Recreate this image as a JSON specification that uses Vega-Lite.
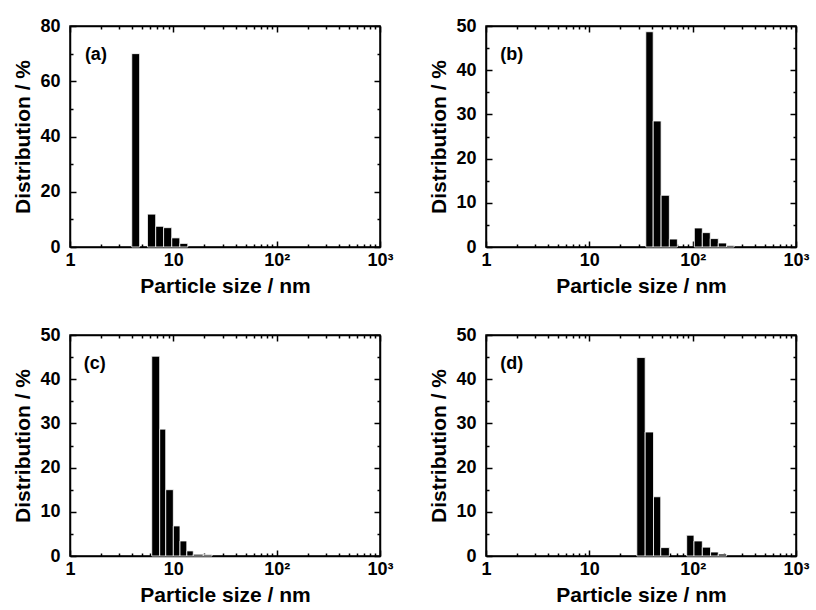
{
  "$schema": "https://vega.github.io/schema/vega-lite/v6.json",
  "background": "white",
  "padding": {"left": 12, "top": 16, "right": 5, "bottom": 5},
  "columns": 2,
  "bounds": "flush",
  "spacing": {"row": 88, "column": 106},
  "datasets": {
    "a": [
      {"start": 3.96, "end": 4.72, "pct": 70.0},
      {"start": 5.62, "end": 6.75, "pct": 11.9},
      {"start": 6.75, "end": 8.05, "pct": 7.5},
      {"start": 8.05, "end": 9.65, "pct": 7.0},
      {"start": 9.65, "end": 11.55, "pct": 3.3},
      {"start": 11.55, "end": 13.8, "pct": 1.3}
    ],
    "b": [
      {"start": 35.2, "end": 41.5, "pct": 48.7},
      {"start": 41.5, "end": 49.5, "pct": 28.5},
      {"start": 49.5, "end": 59.5, "pct": 11.7},
      {"start": 59.5, "end": 71.1, "pct": 1.8},
      {"start": 103.8, "end": 124, "pct": 4.3},
      {"start": 124, "end": 148, "pct": 3.25},
      {"start": 148, "end": 177, "pct": 1.9},
      {"start": 177, "end": 213, "pct": 0.9},
      {"start": 213, "end": 252, "pct": 0.35}
    ],
    "c": [
      {"start": 6.18, "end": 7.38, "pct": 45.2},
      {"start": 7.38, "end": 8.44, "pct": 28.7},
      {"start": 8.44, "end": 10.0, "pct": 15.0},
      {"start": 10.0, "end": 11.6, "pct": 6.8},
      {"start": 11.6, "end": 13.5, "pct": 3.4},
      {"start": 13.5, "end": 15.6, "pct": 1.15},
      {"start": 15.6, "end": 19.5, "pct": 0.4},
      {"start": 19.5, "end": 23.7, "pct": 0.3}
    ],
    "d": [
      {"start": 28.8, "end": 34.7, "pct": 44.9},
      {"start": 34.7, "end": 41.8, "pct": 28.05},
      {"start": 41.8, "end": 49.1, "pct": 13.4},
      {"start": 49.1, "end": 59.5, "pct": 1.9},
      {"start": 87.5, "end": 103, "pct": 4.7},
      {"start": 103, "end": 124, "pct": 3.4},
      {"start": 124, "end": 149, "pct": 2.0},
      {"start": 149, "end": 177, "pct": 0.9},
      {"start": 177, "end": 213, "pct": 0.45}
    ],
    "labels": [
      {"panel": "a", "lab": "(a)", "lx": 1.78, "ly": 69.5},
      {"panel": "b", "lab": "(b)", "lx": 1.77, "ly": 43.4},
      {"panel": "c", "lab": "(c)", "lx": 1.74, "ly": 43.4},
      {"panel": "d", "lab": "(d)", "lx": 1.77, "ly": 43.4}
    ]
  },
  "concat": [
    {
      "width": 310, "height": 221,
      "data": {"name": "a"},
      "layer": [
        {"mark": {"type": "bar", "color": "black", "stroke": "white", "strokeWidth": 0.8},
         "encoding": {
           "x": {"field": "start", "type": "quantitative", "scale": {"type": "log", "domain": [1, 1000]},
                 "axis": {"orient": "bottom", "values": [1, 10, 100, 1000], "tickSize": -6, "labelPadding": 10, "labelExpr": "datum.value == 1 ? '1' : datum.value == 10 ? '10' : datum.value == 100 ? '10²' : '10³'", "title": "Particle size / nm", "titlePadding": 6}},
           "x2": {"field": "end"},
           "y": {"field": "pct", "type": "quantitative", "scale": {"domain": [0, 80]},
                 "axis": {"orient": "left", "values": [0, 20, 40, 60, 80], "tickSize": -6, "labelPadding": 16, "title": "Distribution / %", "titlePadding": 6}},
           "y2": {"datum": 0}
         }},
        {"mark": {"type": "bar", "opacity": 0},
         "encoding": {
           "x": {"field": "start", "type": "quantitative", "axis": {"orient": "bottom", "values": [2,3,4,5,6,7,8,9,20,30,40,50,60,70,80,90,200,300,400,500,600,700,800,900], "tickSize": -3, "labels": false, "domain": false, "title": null}},
           "x2": {"field": "end"},
           "y": {"field": "pct", "type": "quantitative", "axis": {"orient": "left", "values": [10, 30, 50, 70], "tickSize": -3, "labels": false, "domain": false, "title": null}},
           "y2": {"datum": 0}
         }},
        {"mark": {"type": "bar", "opacity": 0},
         "encoding": {
           "x": {"field": "start", "type": "quantitative", "axis": {"orient": "top", "values": [1, 10, 100, 1000], "tickSize": -6, "labels": false, "title": null}},
           "x2": {"field": "end"},
           "y": {"field": "pct", "type": "quantitative", "axis": {"orient": "right", "values": [0, 20, 40, 60, 80], "tickSize": -6, "labels": false, "title": null}},
           "y2": {"datum": 0}
         }},
        {"mark": {"type": "bar", "opacity": 0},
         "encoding": {
           "x": {"field": "start", "type": "quantitative", "axis": {"orient": "top", "values": [2,3,4,5,6,7,8,9,20,30,40,50,60,70,80,90,200,300,400,500,600,700,800,900], "tickSize": -3, "labels": false, "domain": false, "title": null}},
           "x2": {"field": "end"},
           "y": {"field": "pct", "type": "quantitative", "axis": {"orient": "right", "values": [10, 30, 50, 70], "tickSize": -3, "labels": false, "domain": false, "title": null}},
           "y2": {"datum": 0}
         }},
        {"data": {"name": "labels"},
         "transform": [{"filter": "datum.panel == 'a'"}],
         "mark": {"type": "text", "font": "Liberation Sans", "fontSize": 18, "fontWeight": "bold", "color": "black", "align": "center", "baseline": "middle"},
         "encoding": {
           "x": {"field": "lx", "type": "quantitative", "axis": null},
           "y": {"field": "ly", "type": "quantitative", "axis": null},
           "text": {"field": "lab"}
         }}
      ],
      "resolve": {"axis": {"x": "independent", "y": "independent"}}
    },
    {
      "width": 310, "height": 221,
      "data": {"name": "b"},
      "layer": [
        {"mark": {"type": "bar", "color": "black", "stroke": "white", "strokeWidth": 0.8},
         "encoding": {
           "x": {"field": "start", "type": "quantitative", "scale": {"type": "log", "domain": [1, 1000]},
                 "axis": {"orient": "bottom", "values": [1, 10, 100, 1000], "tickSize": -6, "labelPadding": 10, "labelExpr": "datum.value == 1 ? '1' : datum.value == 10 ? '10' : datum.value == 100 ? '10²' : '10³'", "title": "Particle size / nm", "titlePadding": 6}},
           "x2": {"field": "end"},
           "y": {"field": "pct", "type": "quantitative", "scale": {"domain": [0, 50]},
                 "axis": {"orient": "left", "values": [0, 10, 20, 30, 40, 50], "tickSize": -6, "labelPadding": 16, "title": "Distribution / %", "titlePadding": 6}},
           "y2": {"datum": 0}
         }},
        {"mark": {"type": "bar", "opacity": 0},
         "encoding": {
           "x": {"field": "start", "type": "quantitative", "axis": {"orient": "bottom", "values": [2,3,4,5,6,7,8,9,20,30,40,50,60,70,80,90,200,300,400,500,600,700,800,900], "tickSize": -3, "labels": false, "domain": false, "title": null}},
           "x2": {"field": "end"},
           "y": {"field": "pct", "type": "quantitative", "axis": {"orient": "left", "values": [5, 15, 25, 35, 45], "tickSize": -3, "labels": false, "domain": false, "title": null}},
           "y2": {"datum": 0}
         }},
        {"mark": {"type": "bar", "opacity": 0},
         "encoding": {
           "x": {"field": "start", "type": "quantitative", "axis": {"orient": "top", "values": [1, 10, 100, 1000], "tickSize": -6, "labels": false, "title": null}},
           "x2": {"field": "end"},
           "y": {"field": "pct", "type": "quantitative", "axis": {"orient": "right", "values": [0, 10, 20, 30, 40, 50], "tickSize": -6, "labels": false, "title": null}},
           "y2": {"datum": 0}
         }},
        {"mark": {"type": "bar", "opacity": 0},
         "encoding": {
           "x": {"field": "start", "type": "quantitative", "axis": {"orient": "top", "values": [2,3,4,5,6,7,8,9,20,30,40,50,60,70,80,90,200,300,400,500,600,700,800,900], "tickSize": -3, "labels": false, "domain": false, "title": null}},
           "x2": {"field": "end"},
           "y": {"field": "pct", "type": "quantitative", "axis": {"orient": "right", "values": [5, 15, 25, 35, 45], "tickSize": -3, "labels": false, "domain": false, "title": null}},
           "y2": {"datum": 0}
         }},
        {"data": {"name": "labels"},
         "transform": [{"filter": "datum.panel == 'b'"}],
         "mark": {"type": "text", "font": "Liberation Sans", "fontSize": 18, "fontWeight": "bold", "color": "black", "align": "center", "baseline": "middle"},
         "encoding": {
           "x": {"field": "lx", "type": "quantitative", "axis": null},
           "y": {"field": "ly", "type": "quantitative", "axis": null},
           "text": {"field": "lab"}
         }}
      ],
      "resolve": {"axis": {"x": "independent", "y": "independent"}}
    },
    {
      "width": 310, "height": 221,
      "data": {"name": "c"},
      "layer": [
        {"mark": {"type": "bar", "color": "black", "stroke": "white", "strokeWidth": 0.8},
         "encoding": {
           "x": {"field": "start", "type": "quantitative", "scale": {"type": "log", "domain": [1, 1000]},
                 "axis": {"orient": "bottom", "values": [1, 10, 100, 1000], "tickSize": -6, "labelPadding": 10, "labelExpr": "datum.value == 1 ? '1' : datum.value == 10 ? '10' : datum.value == 100 ? '10²' : '10³'", "title": "Particle size / nm", "titlePadding": 6}},
           "x2": {"field": "end"},
           "y": {"field": "pct", "type": "quantitative", "scale": {"domain": [0, 50]},
                 "axis": {"orient": "left", "values": [0, 10, 20, 30, 40, 50], "tickSize": -6, "labelPadding": 16, "title": "Distribution / %", "titlePadding": 6}},
           "y2": {"datum": 0}
         }},
        {"mark": {"type": "bar", "opacity": 0},
         "encoding": {
           "x": {"field": "start", "type": "quantitative", "axis": {"orient": "bottom", "values": [2,3,4,5,6,7,8,9,20,30,40,50,60,70,80,90,200,300,400,500,600,700,800,900], "tickSize": -3, "labels": false, "domain": false, "title": null}},
           "x2": {"field": "end"},
           "y": {"field": "pct", "type": "quantitative", "axis": {"orient": "left", "values": [5, 15, 25, 35, 45], "tickSize": -3, "labels": false, "domain": false, "title": null}},
           "y2": {"datum": 0}
         }},
        {"mark": {"type": "bar", "opacity": 0},
         "encoding": {
           "x": {"field": "start", "type": "quantitative", "axis": {"orient": "top", "values": [1, 10, 100, 1000], "tickSize": -6, "labels": false, "title": null}},
           "x2": {"field": "end"},
           "y": {"field": "pct", "type": "quantitative", "axis": {"orient": "right", "values": [0, 10, 20, 30, 40, 50], "tickSize": -6, "labels": false, "title": null}},
           "y2": {"datum": 0}
         }},
        {"mark": {"type": "bar", "opacity": 0},
         "encoding": {
           "x": {"field": "start", "type": "quantitative", "axis": {"orient": "top", "values": [2,3,4,5,6,7,8,9,20,30,40,50,60,70,80,90,200,300,400,500,600,700,800,900], "tickSize": -3, "labels": false, "domain": false, "title": null}},
           "x2": {"field": "end"},
           "y": {"field": "pct", "type": "quantitative", "axis": {"orient": "right", "values": [5, 15, 25, 35, 45], "tickSize": -3, "labels": false, "domain": false, "title": null}},
           "y2": {"datum": 0}
         }},
        {"data": {"name": "labels"},
         "transform": [{"filter": "datum.panel == 'c'"}],
         "mark": {"type": "text", "font": "Liberation Sans", "fontSize": 18, "fontWeight": "bold", "color": "black", "align": "center", "baseline": "middle"},
         "encoding": {
           "x": {"field": "lx", "type": "quantitative", "axis": null},
           "y": {"field": "ly", "type": "quantitative", "axis": null},
           "text": {"field": "lab"}
         }}
      ],
      "resolve": {"axis": {"x": "independent", "y": "independent"}}
    },
    {
      "width": 310, "height": 221,
      "data": {"name": "d"},
      "layer": [
        {"mark": {"type": "bar", "color": "black", "stroke": "white", "strokeWidth": 0.8},
         "encoding": {
           "x": {"field": "start", "type": "quantitative", "scale": {"type": "log", "domain": [1, 1000]},
                 "axis": {"orient": "bottom", "values": [1, 10, 100, 1000], "tickSize": -6, "labelPadding": 10, "labelExpr": "datum.value == 1 ? '1' : datum.value == 10 ? '10' : datum.value == 100 ? '10²' : '10³'", "title": "Particle size / nm", "titlePadding": 6}},
           "x2": {"field": "end"},
           "y": {"field": "pct", "type": "quantitative", "scale": {"domain": [0, 50]},
                 "axis": {"orient": "left", "values": [0, 10, 20, 30, 40, 50], "tickSize": -6, "labelPadding": 16, "title": "Distribution / %", "titlePadding": 6}},
           "y2": {"datum": 0}
         }},
        {"mark": {"type": "bar", "opacity": 0},
         "encoding": {
           "x": {"field": "start", "type": "quantitative", "axis": {"orient": "bottom", "values": [2,3,4,5,6,7,8,9,20,30,40,50,60,70,80,90,200,300,400,500,600,700,800,900], "tickSize": -3, "labels": false, "domain": false, "title": null}},
           "x2": {"field": "end"},
           "y": {"field": "pct", "type": "quantitative", "axis": {"orient": "left", "values": [5, 15, 25, 35, 45], "tickSize": -3, "labels": false, "domain": false, "title": null}},
           "y2": {"datum": 0}
         }},
        {"mark": {"type": "bar", "opacity": 0},
         "encoding": {
           "x": {"field": "start", "type": "quantitative", "axis": {"orient": "top", "values": [1, 10, 100, 1000], "tickSize": -6, "labels": false, "title": null}},
           "x2": {"field": "end"},
           "y": {"field": "pct", "type": "quantitative", "axis": {"orient": "right", "values": [0, 10, 20, 30, 40, 50], "tickSize": -6, "labels": false, "title": null}},
           "y2": {"datum": 0}
         }},
        {"mark": {"type": "bar", "opacity": 0},
         "encoding": {
           "x": {"field": "start", "type": "quantitative", "axis": {"orient": "top", "values": [2,3,4,5,6,7,8,9,20,30,40,50,60,70,80,90,200,300,400,500,600,700,800,900], "tickSize": -3, "labels": false, "domain": false, "title": null}},
           "x2": {"field": "end"},
           "y": {"field": "pct", "type": "quantitative", "axis": {"orient": "right", "values": [5, 15, 25, 35, 45], "tickSize": -3, "labels": false, "domain": false, "title": null}},
           "y2": {"datum": 0}
         }},
        {"data": {"name": "labels"},
         "transform": [{"filter": "datum.panel == 'd'"}],
         "mark": {"type": "text", "font": "Liberation Sans", "fontSize": 18, "fontWeight": "bold", "color": "black", "align": "center", "baseline": "middle"},
         "encoding": {
           "x": {"field": "lx", "type": "quantitative", "axis": null},
           "y": {"field": "ly", "type": "quantitative", "axis": null},
           "text": {"field": "lab"}
         }}
      ],
      "resolve": {"axis": {"x": "independent", "y": "independent"}}
    }
  ],
  "config": {
    "font": "Liberation Sans",
    "view": {"stroke": "black", "strokeWidth": 1.5},
    "axis": {
      "labelFont": "Liberation Sans", "labelFontSize": 18, "labelFontWeight": "bold", "labelColor": "black",
      "titleFont": "Liberation Sans", "titleFontSize": 21, "titleFontWeight": "bold", "titleColor": "black",
      "domainColor": "black", "domainWidth": 1.5, "tickColor": "black", "tickWidth": 1.5,
      "grid": false, "labelFlush": false
    }
  }
}
